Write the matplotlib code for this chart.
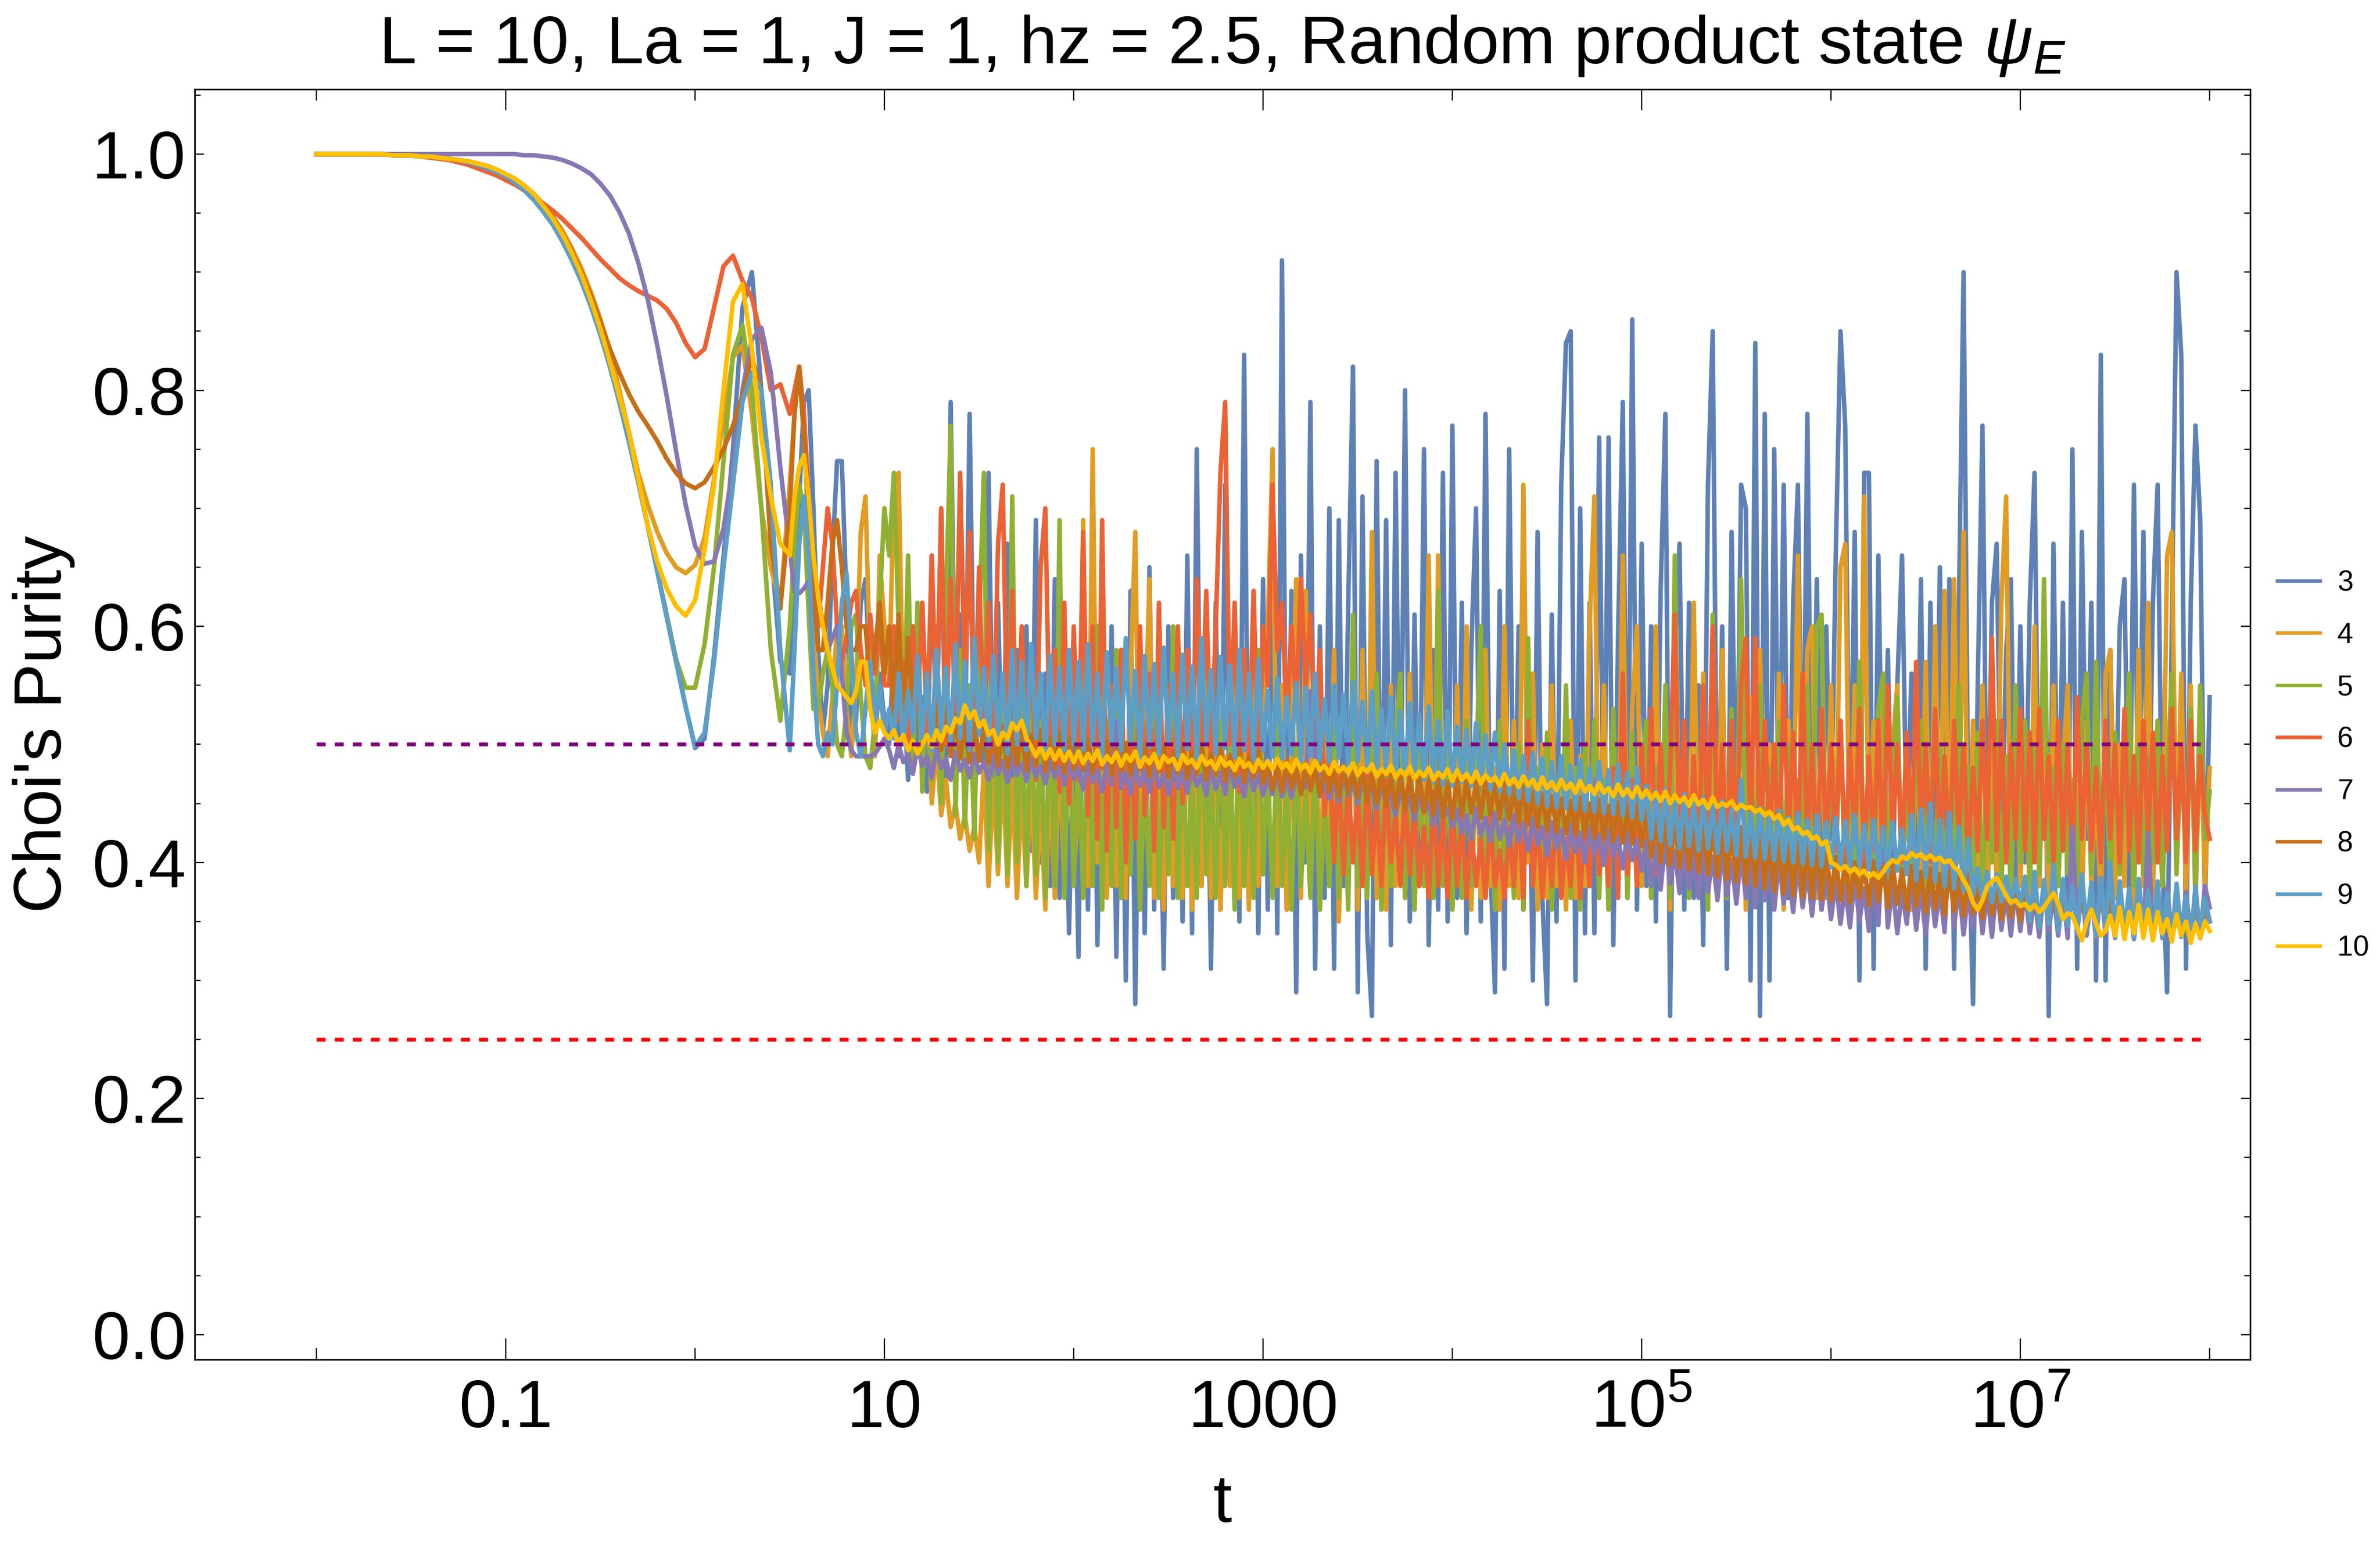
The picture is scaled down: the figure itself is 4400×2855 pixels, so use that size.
import numpy as np
import matplotlib
matplotlib.use("Agg")
import matplotlib.pyplot as plt
from matplotlib.ticker import FixedLocator, MultipleLocator, NullFormatter

plt.rcParams['font.family'] = ['Liberation Sans', 'DejaVu Sans']
plt.rcParams['mathtext.fontset'] = 'custom'
plt.rcParams['mathtext.rm'] = 'Liberation Sans'
plt.rcParams['mathtext.it'] = 'Liberation Sans:italic'

# sample points, log10(t)
log_t_early = np.linspace(-2.0, 0.5, 51)
log_t_late = np.linspace(0.525, 8.0, 300)

series_labels = ['3', '4', '5', '6', '7', '8', '9', '10']
series_colors = ['#5E81B5', '#E19C24', '#8FB032', '#EB6235',
                 '#8778B3', '#C56E1A', '#5D9EC7', '#FFBF00']
ref_levels = [0.5, 0.25]
ref_colors = ['#800080', '#FF0000']

# smooth part, t = 0.01 .. 10^0.5
p3_early = [1.000, 1.000, 1.000, 1.000, 1.000, 1.000, 1.000, 1.000, 0.999, 0.999,
            0.999, 0.998, 0.998, 0.997, 0.996, 0.995, 0.993, 0.991, 0.988, 0.985,
            0.981, 0.976, 0.969, 0.961, 0.951, 0.940, 0.926, 0.910, 0.892, 0.871,
            0.847, 0.820, 0.790, 0.757, 0.722, 0.685, 0.647, 0.608, 0.570, 0.532,
            0.497, 0.505, 0.575, 0.659, 0.750, 0.870, 0.900, 0.800, 0.670, 0.570,
            0.560]
p4_early = [1.000, 1.000, 1.000, 1.000, 1.000, 1.000, 1.000, 1.000, 0.999, 0.999,
            0.999, 0.998, 0.998, 0.997, 0.996, 0.995, 0.994, 0.992, 0.990, 0.987,
            0.983, 0.979, 0.973, 0.966, 0.957, 0.947, 0.935, 0.920, 0.903, 0.883,
            0.860, 0.833, 0.800, 0.765, 0.730, 0.703, 0.680, 0.662, 0.650, 0.645,
            0.652, 0.675, 0.725, 0.775, 0.828, 0.838, 0.780, 0.700, 0.650, 0.618,
            0.720]
p5_early = [1.000, 1.000, 1.000, 1.000, 1.000, 1.000, 1.000, 1.000, 0.999, 0.999,
            0.999, 0.998, 0.998, 0.997, 0.996, 0.995, 0.993, 0.991, 0.988, 0.985,
            0.981, 0.976, 0.969, 0.961, 0.951, 0.940, 0.926, 0.910, 0.892, 0.871,
            0.847, 0.820, 0.790, 0.757, 0.722, 0.685, 0.647, 0.610, 0.572, 0.548,
            0.548, 0.585, 0.650, 0.740, 0.830, 0.855, 0.800, 0.700, 0.580, 0.520,
            0.600]
p6_early = [1.000, 1.000, 1.000, 1.000, 1.000, 1.000, 1.000, 1.000, 0.999, 0.999,
            0.999, 0.998, 0.997, 0.996, 0.995, 0.993, 0.991, 0.988, 0.985, 0.982,
            0.978, 0.974, 0.969, 0.964, 0.958, 0.952, 0.945, 0.937, 0.929, 0.920,
            0.911, 0.903, 0.895, 0.889, 0.884, 0.880, 0.876, 0.869, 0.857, 0.840,
            0.828, 0.835, 0.870, 0.905, 0.914, 0.893, 0.878, 0.845, 0.800, 0.805,
            0.780]
p7_early = [1.000, 1.000, 1.000, 1.000, 1.000, 1.000, 1.000, 1.000, 1.000, 1.000,
            1.000, 1.000, 1.000, 1.000, 1.000, 1.000, 1.000, 1.000, 1.000, 1.000,
            1.000, 1.000, 0.999, 0.999, 0.998, 0.997, 0.995, 0.992, 0.988, 0.983,
            0.975, 0.965, 0.951, 0.933, 0.908, 0.877, 0.838, 0.795, 0.748, 0.703,
            0.668, 0.653, 0.655, 0.683, 0.735, 0.800, 0.843, 0.853, 0.815, 0.735,
            0.665]
p8_early = [1.000, 1.000, 1.000, 1.000, 1.000, 1.000, 1.000, 1.000, 0.999, 0.999,
            0.999, 0.998, 0.998, 0.997, 0.996, 0.995, 0.994, 0.992, 0.990, 0.987,
            0.983, 0.979, 0.973, 0.966, 0.957, 0.946, 0.933, 0.918, 0.900, 0.880,
            0.858, 0.835, 0.815, 0.797, 0.782, 0.770, 0.757, 0.742, 0.730, 0.721,
            0.717, 0.722, 0.735, 0.750, 0.770, 0.795, 0.828, 0.800, 0.670, 0.615,
            0.700]
p9_early = [1.000, 1.000, 1.000, 1.000, 1.000, 1.000, 1.000, 1.000, 0.999, 0.999,
            0.999, 0.998, 0.998, 0.997, 0.996, 0.995, 0.993, 0.991, 0.988, 0.985,
            0.981, 0.976, 0.969, 0.961, 0.951, 0.940, 0.926, 0.910, 0.892, 0.871,
            0.847, 0.820, 0.790, 0.757, 0.722, 0.685, 0.647, 0.608, 0.570, 0.532,
            0.498, 0.510, 0.570, 0.650, 0.720, 0.790, 0.815, 0.800, 0.720, 0.580,
            0.495]
p10_early = [1.000, 1.000, 1.000, 1.000, 1.000, 1.000, 1.000, 1.000, 0.999, 0.999,
             0.999, 0.998, 0.998, 0.997, 0.996, 0.995, 0.994, 0.992, 0.990, 0.987,
             0.983, 0.979, 0.973, 0.966, 0.956, 0.945, 0.932, 0.916, 0.898, 0.876,
             0.852, 0.824, 0.795, 0.765, 0.725, 0.685, 0.655, 0.632, 0.617, 0.609,
             0.622, 0.665, 0.720, 0.800, 0.875, 0.890, 0.835, 0.760, 0.710, 0.670,
             0.660]

# fluctuating part, t = 10^0.525 .. 10^8 (purity x100)
p3_late = """
62 71 79 80 70 58 51 55 66 74 74 62 51 52 62 64 55 50 56 52
50 58 49 55 47 60 50 54 46 66 50 70 47 79 52 61 48 78 50 57
47 73 46 62 45 67 44 58 43 60 41 69 40 56 38 64 37 55 34 52
32 62 36 66 33 55 38 60 32 58 30 63 28 57 34 65 36 54 31 60
37 56 35 66 34 75 38 57 31 62 36 72 39 60 35 83 37 58 34 64
36 70 34 91 36 63 29 66 40 79 31 60 37 70 31 69 38 62 82 29
71 34 27 74 36 69 33 73 40 80 35 61 38 75 33 58 36 73 35 77
37 62 34 58 70 35 78 40 29 63 31 75 38 60 36 56 30 68 37 28
61 35 72 84 85 30 70 34 62 34 76 40 76 33 59 79 37 86 36 67
38 60 35 63 78 27 58 67 36 62 37 55 33 72 85 38 60 31 68 40
72 70 30 84 27 78 30 75 41 72 37 62 72 40 78 38 64 36 60 42
66 85 77 40 68 30 73 73 31 66 40 58 38 55 66 42 56 38 64 31
62 40 65 37 64 31 61 90 44 28 55 77 38 62 67 40 58 64 37 60
40 62 73 38 60 27 67 40 62 36 75 31 68 42 62 30 83 30 58 40
60 64 37 72 41 68 38 62 72 40 29 60 90 83 31 62 77 69 36 54
"""
p4_late = """
78 82 76 68 60 54 51 49 54 60 60 53 49 55 68 71 56 49 66 60
55 72 73 52 63 50 60 47 55 45 50 44 47 43 45 42 44 41 43 40
48 38 47 39 48 38 47 37 46 38 47 37 45 36 47 37 50 38 55 39
45 69 38 75 40 55 37 52 38 48 37 56 68 38 50 64 37 49 36 53
38 47 37 55 36 50 38 58 37 52 36 49 38 57 37 52 36 60 38 54
60 75 38 55 36 50 64 37 63 40 55 36 52 38 58 35 48 37 56 36
58 39 68 37 50 36 55 38 47 37 56 36 50 38 66 37 66 39 52 36
55 38 60 36 50 37 58 38 48 36 60 38 52 37 72 40 56 36 50 37
55 38 47 36 52 37 49 38 60 71 37 55 36 50 38 66 37 53 60 38
52 37 60 38 50 36 55 39 48 37 62 38 56 36 50 38 58 37 52 38
60 36 54 39 58 37 50 38 56 36 52 40 66 38 58 60 37 52 38 55
40 65 67 38 55 37 71 40 52 37 56 38 50 55 37 48 36 53 38 57
37 60 39 63 38 64 40 68 37 52 38 55 36 50 38 62 71 37 52 38
50 37 60 38 52 36 55 38 48 55 37 50 36 52 38 47 36 56 58 37
50 38 55 36 58 38 62 37 52 38 66 68 40 56 37 55 36 52 38 48
"""
p5_late = """
67 72 70 61 53 53 56 58 55 50 49 53 60 61 54 49 48 52 62 70
66 73 60 50 66 48 62 46 57 47 60 45 62 77 44 58 43 55 42 60
73 41 57 40 55 39 71 40 54 38 56 39 52 37 55 38 69 37 52 38
50 37 55 38 60 36 52 38 58 37 50 39 55 36 48 38 53 37 49 39
60 37 51 38 47 37 54 39 48 37 52 38 50 36 55 38 48 37 58 39
48 37 52 38 47 36 50 38 46 37 49 36 45 38 52 37 48 36 61 38
47 37 50 56 36 48 38 50 56 37 47 36 50 38 46 37 63 38 49 36
47 37 52 38 48 60 37 49 36 52 38 46 37 50 36 59 38 48 37 51
36 47 38 55 37 48 36 50 38 52 37 47 36 53 38 49 37 51 38 48
52 37 48 38 55 37 66 40 50 37 47 38 52 36 61 38 49 37 53 38
64 39 50 37 55 38 48 37 52 38 50 37 47 39 55 38 60 61 37 50
40 52 38 50 37 57 39 48 38 53 56 38 47 54 37 49 38 50 52 37
47 38 50 37 46 39 55 38 48 37 51 38 47 40 52 38 49 37 55 40
52 38 50 39 64 40 48 38 50 39 47 38 52 56 39 57 40 49 38 51
39 47 56 38 50 39 48 40 52 38 47 56 39 50 40 53 38 55 42 46
"""
p6_late = """
80 82 78 71 64 60 65 70 67 60 57 59 62 63 58 55 61 56 60 55
55 60 52 57 50 60 53 62 51 66 52 70 50 64 52 73 55 68 50 65
51 62 49 67 72 50 63 48 60 50 58 47 65 70 48 58 46 62 45 60
47 68 44 60 42 69 41 55 43 58 40 52 42 60 44 56 41 62 43 55
42 60 45 58 47 64 50 63 48 60 73 79 50 62 46 58 49 63 47 60
55 72 58 62 52 60 53 64 55 61 50 58 44 50 40 48 39 47 40 46
38 48 39 45 38 47 40 44 38 46 39 45 38 43 37 46 38 44 37 45
38 44 37 43 38 42 37 44 38 41 37 43 38 45 37 52 38 44 37 43
38 45 37 42 38 46 37 44 38 47 39 45 38 48 37 56 39 47 38 50
42 53 39 50 40 48 61 41 52 39 49 40 55 42 60 41 50 39 52 40
55 59 42 59 40 52 41 50 40 55 42 51 40 56 41 50 39 53 41 50
41 52 40 50 42 53 40 49 41 52 39 55 42 50 40 51 41 57 42 50
40 53 41 49 40 52 42 50 40 48 41 52 42 59 41 52 40 50 42 53
41 51 40 53 42 49 40 52 41 50 39 54 42 50 41 48 40 52 42 50
40 53 41 49 40 52 42 51 40 49 41 53 42 50 40 52 41 49 44 42
"""
# purity x1000 for the narrower bands
p7_late = """
630 628 632 638 642 630 600 580 590 600 560 510 495 490 490 490 490 492 498 505
495 480 500 485 492 475 498 482 490 472 496 480 488 470 494 478 487 472 492 476
485 470 490 475 486 468 489 474 484 469 488 473 482 467 486 472 481 466 485 471
480 462 486 468 478 460 484 466 520 463 476 458 482 465 478 460 485 464 475 458
481 463 477 459 483 465 474 457 480 462 476 458 482 464 473 456 479 461 475 457
472 458 476 456 470 455 474 460 468 545 490 456 472 454 469 452 474 457 467 450
470 455 463 446 466 450 458 440 462 446 455 436 458 442 450 432 455 438 446 430
445 425 440 420 446 423 438 418 442 420 436 414 440 418 433 410 437 415 430 406
434 412 428 403 432 409 425 400 430 407 423 398 428 405 421 395 426 402 419 393
418 380 414 377 420 382 410 374 415 378 408 370 412 375 405 368 410 372 402 365
408 370 400 362 405 368 398 360 403 365 395 358 400 362 393 355 398 360 390 352
385 348 380 345 388 350 378 342 384 347 430 345 382 340 376 348 385 343 379 338
383 346 377 341 420 345 380 339 375 344 382 340 376 337 381 343 374 338 379 342
377 340 372 337 380 342 374 338 378 336 430 341 375 338 372 335 379 340 373 336
377 339 371 335 376 341 425 338 374 336 378 340 372 337 375 339 370 336 380 362
"""
p8_late = """
780 820 760 700 630 580 580 620 670 690 650 600 580 580 600 600 550 580 620 560
600 520 610 515 590 530 575 505 560 500 540 495 530 490 525 488 520 485 518 486
515 484 512 482 516 480 510 483 514 478 508 482 512 477 506 480 510 476 505 479
500 478 504 476 498 480 502 474 497 478 501 475 496 479 500 473 495 477 499 472
494 476 498 471 493 475 497 470 492 474 496 469 491 473 495 468 490 472 494 467
485 462 482 460 486 463 480 458 484 461 479 457 483 460 478 456 482 459 477 455
480 452 475 450 478 448 474 446 476 445 472 443 475 442 470 440 473 438 468 437
472 440 470 442 468 438 471 441 466 437 469 436 464 434 467 432 460 430 458 428
456 426 454 425 452 424 455 422 450 421 453 420 448 418 451 417 446 416 449 414
444 405 440 400 442 398 436 396 439 394 433 392 436 390 430 388 433 386 427 384
430 382 424 380 427 378 421 376 424 374 418 372 421 371 415 370 418 369 412 368
405 368 402 366 400 370 398 364 401 367 396 362 399 365 394 360 397 363 392 358
395 361 390 356 393 359 388 355 391 357 386 353 389 356 384 352 387 354 382 351
380 350 378 348 376 352 374 347 377 349 372 346 375 348 370 345 373 347 368 344
371 346 366 343 369 345 364 342 367 344 362 341 365 343 360 340 363 342 358 350
"""
p9_late = """
580 670 710 660 560 500 490 510 500 550 620 645 580 510 490 530 570 520 550 510
530 505 560 500 545 510 575 505 560 495 580 510 565 500 585 505 570 495 590 508
565 498 575 505 560 492 580 500 570 495 585 505 560 490 575 500 565 495 580 500
570 495 585 500 560 490 578 502 565 495 590 500 562 488 575 498 568 492 582 500
560 490 576 496 566 488 590 500 563 492 574 497 567 489 580 495 560 487 572 495
545 490 556 488 540 492 552 486 548 490 560 487 538 485 550 489 542 484 553 486
536 482 545 480 530 478 540 476 528 474 535 472 525 470 532 468 520 466 528 465
515 468 512 465 518 467 508 462 510 460 500 458 495 455 490 452 493 450 488 448
485 447 490 446 482 445 487 444 480 443 485 442 478 441 483 440 476 438 480 436
465 420 460 418 462 415 455 412 458 414 450 410 455 412 448 408 452 410 445 406
470 405 442 404 446 403 440 402 444 401 438 400 442 399 436 398 440 397 434 396
438 398 435 396 440 397 432 394 436 395 430 392 434 393 428 390 440 385 445 388
450 384 436 380 442 378 430 376 420 372 395 368 392 366 390 367 388 365 386 364
388 350 392 345 385 348 398 342 386 346 380 340 390 344 383 338 387 342 400 337
384 341 378 336 386 340 376 335 384 338 374 333 382 337 372 332 380 336 370 350
"""
p10_late = """
710 735 745 710 660 625 600 580 565 550 545 540 535 545 570 570 530 510 520 510
505 512 500 508 495 503 492 500 508 498 512 503 515 510 522 518 533 522 528 515
520 508 512 500 510 505 518 512 520 505 498 490 498 488 496 487 495 486 494 485
494 484 492 486 495 483 490 485 493 482 491 486 494 481 489 484 492 480 490 485
488 479 491 484 487 480 490 483 486 479 489 482 485 478 488 481 484 477 487 480
486 479 488 480 484 477 487 479 483 476 486 478 482 475 485 477 481 476 484 474
480 477 483 473 479 475 482 472 478 474 481 471 477 473 480 470 476 472 479 469
478 470 475 468 477 467 474 469 472 465 475 466 471 464 473 465 470 462 472 463
468 461 470 462 467 459 469 460 465 458 467 459 463 456 466 457 462 455 464 455
461 454 459 452 460 450 457 451 455 448 457 449 453 446 455 447 450 448 452 445
449 446 447 443 445 440 443 437 440 432 436 428 430 424 426 420 422 415 418 400
398 394 397 392 395 390 393 388 391 387 392 398 402 400 405 403 408 405 407 403
406 402 404 400 402 396 393 385 378 366 360 368 380 384 387 380 372 366 368 363
365 360 364 358 362 368 374 365 352 357 355 345 334 350 360 348 338 342 355 338
362 335 358 340 364 336 360 334 358 340 352 333 356 338 350 332 348 336 350 342
"""


def build(early, late_text, scale):
    late = np.array(late_text.split(), dtype=float) / scale
    return np.concatenate([np.array(early), late])


t = 10 ** np.concatenate([log_t_early, log_t_late])
purity = [build(p3_early, p3_late, 100), build(p4_early, p4_late, 100),
          build(p5_early, p5_late, 100), build(p6_early, p6_late, 100),
          build(p7_early, p7_late, 1000), build(p8_early, p8_late, 1000),
          build(p9_early, p9_late, 1000), build(p10_early, p10_late, 1000)]

fig = plt.figure(figsize=(44, 28.55), dpi=100)
ax = fig.add_axes([360 / 4400, 1 - 2514 / 2855, 3800 / 4400, 2349.5 / 2855])

for y, lab, col in zip(purity, series_labels, series_colors):
    ax.plot(t, y, color=col, lw=6.0, label=lab)

for lev, col in zip(ref_levels, ref_colors):
    ax.plot([t[0], t[-1]], [lev, lev], color=col, lw=5.0,
            linestyle=(0, (2.4, 2.4)))

ax.set_xscale('log')
ax.set_xlim(10 ** -2.643, 10 ** 8.214)
ax.set_ylim(-0.0211, 1.0552)

ax.set_xticks([0.1, 10, 1e3, 1e5, 1e7],
              ['0.1', '10', '1000', r'$10^{5}$', r'$10^{7}$'], va='baseline')
ax.xaxis.set_minor_locator(FixedLocator([0.01, 1, 100, 1e4, 1e6, 1e8]))
ax.xaxis.set_minor_formatter(NullFormatter())
ax.set_yticks([0.0, 0.2, 0.4, 0.6, 0.8, 1.0],
              ['0.0', '0.2', '0.4', '0.6', '0.8', '1.0'])
ax.yaxis.set_minor_locator(MultipleLocator(0.05))

ax.tick_params(axis='both', which='both', direction='in', top=True, right=True,
               width=1.7, color='black')
ax.tick_params(axis='x', which='major', length=28, pad=90, labelsize=90)
ax.tick_params(axis='x', which='minor', length=15)
ax.tick_params(axis='y', which='major', length=12, pad=12, labelsize=90)
ax.tick_params(axis='y', which='minor', length=8)
for sp in ax.spines.values():
    sp.set_linewidth(2.0)

ax.set_title(r'L = 10, La = 1, J = 1, hz = 2.5, Random product state $\psi_E$',
             fontsize=90, pad=34)
ax.set_xlabel('t', fontsize=90)
ax.xaxis.set_label_coords(0.5, -0.0894)
ax.set_ylabel("Choi's Purity", fontsize=90)
ax.yaxis.set_label_coords(-0.0582, 0.5)

leg = ax.legend(loc='center left', bbox_to_anchor=(4210 / 4400, 1 - 1416 / 2855),
                bbox_transform=fig.transFigure, frameon=False, fontsize=38,
                handlelength=1.5, handletextpad=0.6, labelspacing=0.88,
                borderpad=0, borderaxespad=0)
for line in leg.get_lines():
    line.set_linewidth(4.7)

fig.savefig('out.png', dpi=100)
